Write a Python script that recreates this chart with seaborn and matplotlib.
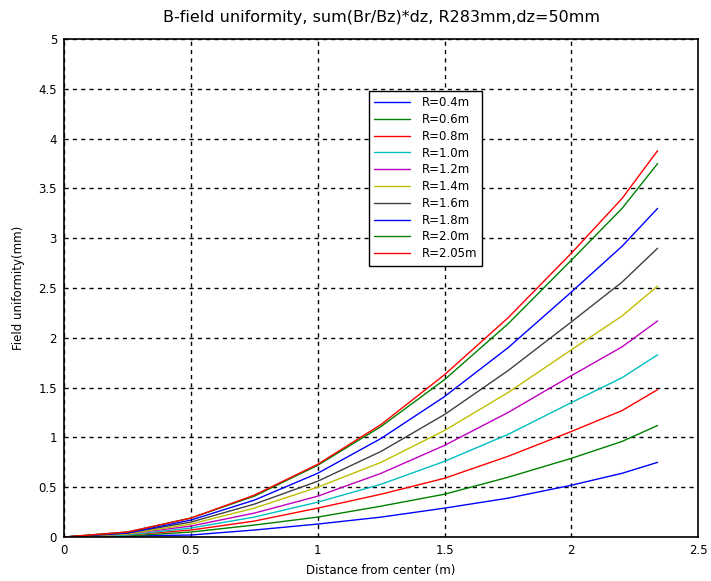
import numpy as np
import pandas as pd
import matplotlib
matplotlib.use("Agg")
import matplotlib.pyplot as plt
import seaborn as sns

distance = [0, 0.25, 0.5, 0.75, 1.0, 1.25, 1.5, 1.75, 2.0, 2.2, 2.34]

labels = ['R=0.4m', 'R=0.6m', 'R=0.8m', 'R=1.0m', 'R=1.2m',
          'R=1.4m', 'R=1.6m', 'R=1.8m', 'R=2.0m', 'R=2.05m']

r04 = [0, 0.01, 0.02, 0.07, 0.13, 0.20, 0.29, 0.39, 0.52, 0.64, 0.75]
r06 = [0, 0.01, 0.05, 0.12, 0.20, 0.31, 0.43, 0.60, 0.79, 0.96, 1.12]
r08 = [0, 0.02, 0.07, 0.16, 0.29, 0.43, 0.59, 0.81, 1.06, 1.27, 1.48]
r10 = [0, 0.02, 0.09, 0.20, 0.35, 0.53, 0.76, 1.03, 1.35, 1.60, 1.83]
r12 = [0, 0.03, 0.11, 0.24, 0.41, 0.64, 0.92, 1.25, 1.62, 1.91, 2.17]
r14 = [0, 0.03, 0.13, 0.29, 0.50, 0.75, 1.07, 1.45, 1.88, 2.22, 2.52]
r16 = [0, 0.04, 0.15, 0.33, 0.56, 0.86, 1.23, 1.67, 2.16, 2.56, 2.90]
r18 = [0, 0.04, 0.17, 0.37, 0.64, 0.99, 1.41, 1.90, 2.46, 2.92, 3.30]
r20 = [0, 0.05, 0.19, 0.41, 0.72, 1.11, 1.58, 2.14, 2.78, 3.30, 3.75]
r205 = [0, 0.05, 0.19, 0.42, 0.73, 1.13, 1.63, 2.20, 2.85, 3.40, 3.88]

series = [r04, r06, r08, r10, r12, r14, r16, r18, r20, r205]

# matlab style line colours
colors = ['#0000ff', '#008000', '#ff0000', '#00bfbf', '#bf00bf',
          '#bfbf00', '#404040', '#0000ff', '#008000', '#ff0000']

rows = []
for lab, vals in zip(labels, series):
    for d, v in zip(distance, vals):
        rows.append({'Distance': d, 'Value': v, 'R': lab})
df = pd.DataFrame(rows)

sns.set_style("white")
plt.rcParams['font.family'] = ['DejaVu Sans']
plt.rcParams['text.color'] = 'black'
plt.rcParams['axes.labelcolor'] = 'black'
plt.rcParams['xtick.color'] = 'black'
plt.rcParams['ytick.color'] = 'black'

fig = plt.figure(figsize=(7.11, 5.81), dpi=100)
ax = fig.add_axes([0.090, 0.0757, 0.892, 0.857])

sns.lineplot(data=df, x='Distance', y='Value', hue='R', hue_order=labels,
             palette=colors, sort=False, linewidth=1, ax=ax)

ax.set_xlim(0, 2.5)
ax.set_ylim(0, 5)
ax.set_xticks([0, 0.5, 1, 1.5, 2, 2.5])
ax.set_xticklabels(['0', '0.5', '1', '1.5', '2', '2.5'])
ax.set_yticks(np.arange(0, 5.01, 0.5))
ax.set_yticklabels(['0', '0.5', '1', '1.5', '2', '2.5', '3', '3.5', '4', '4.5', '5'])
ax.tick_params(labelsize=8.5, direction='in', length=4, width=1, color='black', pad=5)
ax.grid(True, color='black', linestyle=(0, (3, 3)), linewidth=1)

for s in ax.spines.values():
    s.set_color('black')
    s.set_linewidth(1.2)

ax.set_xlabel('Distance from center (m)', fontsize=8.5, labelpad=5)
ax.set_ylabel('Field uniformity(mm)', fontsize=8.5, labelpad=10)
ax.set_title('B-field uniformity, sum(Br/Bz)*dz, R283mm,dz=50mm', fontsize=11.5, pad=12)

leg = ax.legend(loc='upper left', bbox_to_anchor=(0.481, 0.896), borderaxespad=0,
                fontsize=8.5, fancybox=False, framealpha=1, edgecolor='black',
                handlelength=3.0, handletextpad=1.0, labelspacing=0.32,
                borderpad=0.45)
leg.get_frame().set_linewidth(1)

fig.savefig('out.png', dpi=100)
